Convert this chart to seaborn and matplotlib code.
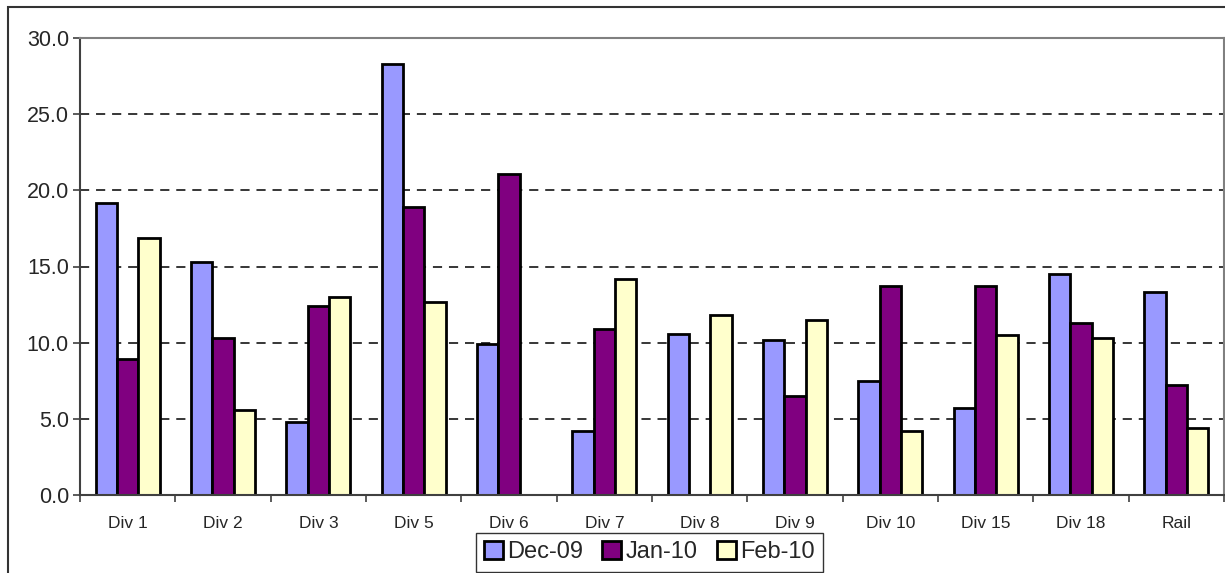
import pandas as pd
import numpy as np
import seaborn as sns
import matplotlib.pyplot as plt
from matplotlib.patches import Rectangle
from matplotlib.ticker import FormatStrFormatter, FixedLocator

# data
divs = ["Div 1", "Div 2", "Div 3", "Div 5", "Div 6", "Div 7", "Div 8",
        "Div 9", "Div 10", "Div 15", "Div 18", "Rail"]
months = ["Dec-09", "Jan-10", "Feb-10"]
dec09 = [19.2, 15.3, 4.8, 28.3, 9.9, 4.2, 10.6, 10.2, 7.5, 5.7, 14.5, 13.3]
jan10 = [8.9, 10.3, 12.4, 18.9, 21.1, 10.9, np.nan, 6.5, 13.7, 13.7, 11.3, 7.2]
feb10 = [16.9, 5.6, 13.0, 12.7, np.nan, 14.2, 11.8, 11.5, 4.2, 10.5, 10.3, 4.4]
colors = ["#9999FF", "#800080", "#FFFFCC"]

df = pd.DataFrame({"Div": divs * 3,
                   "Month": [m for m in months for _ in divs],
                   "Value": dec09 + jan10 + feb10})

sns.set_style("white")
plt.rcParams['font.family'] = ['Liberation Sans', 'DejaVu Sans']

fig = plt.figure(figsize=(12.25, 5.73), dpi=100)
ax = fig.add_axes([80/1225, 1-495/573, (1224-80)/1225, (495-38)/573])

sns.barplot(data=df, x="Div", y="Value", hue="Month", order=divs,
            hue_order=months, palette=colors, width=0.67, gap=0,
            edgecolor="black", linewidth=2, saturation=1, ax=ax)

ax.set_ylim(0, 30)
ax.set_xlim(-0.5, len(divs) - 0.5)
ax.set_yticks(np.arange(0, 30.1, 5))
ax.yaxis.set_major_formatter(FormatStrFormatter('%.1f'))
ax.set_xlabel("")
ax.set_ylabel("")

# dashed gridlines
for v in np.arange(5, 30, 5):
    ax.axhline(v, color="black", lw=1.1, ls=(0, (6, 4.5)), zorder=0.5)

# spines
for s in ["top", "right"]:
    ax.spines[s].set_color("#808080")
    ax.spines[s].set_linewidth(1.5)
for s in ["left", "bottom"]:
    ax.spines[s].set_color("#404040")
    ax.spines[s].set_linewidth(1.5)

ax.tick_params(axis="y", which="major", direction="out", length=5, width=1.2,
               color="#404040", labelsize=15.5, left=True, pad=3)
ax.tick_params(axis="x", which="major", length=0, labelsize=12.5, pad=15)
ax.xaxis.set_minor_locator(FixedLocator(np.arange(-0.5, len(divs), 1)))
ax.tick_params(axis="x", which="minor", direction="out", length=5, width=1.2,
               color="#404040", bottom=True)

handles, labels = ax.get_legend_handles_labels()
ax.get_legend().remove()
leg = fig.legend(handles, labels, loc="upper center",
                 bbox_to_anchor=(649.5/1225, 1-533/573), ncol=3,
                 fontsize=17, frameon=True, fancybox=False, edgecolor="black",
                 handlelength=0.8, handleheight=0.8, handletextpad=0.2,
                 columnspacing=0.8, borderpad=0.35, borderaxespad=0)
leg.get_frame().set_linewidth(1)

# outer chart border
fig.patches.append(Rectangle((8/1225, -0.1), 1.2, 1-7/573+0.1,
                             transform=fig.transFigure, fill=False,
                             edgecolor="#333333", lw=1.5, zorder=0))

fig.savefig("out.png", dpi=100)
